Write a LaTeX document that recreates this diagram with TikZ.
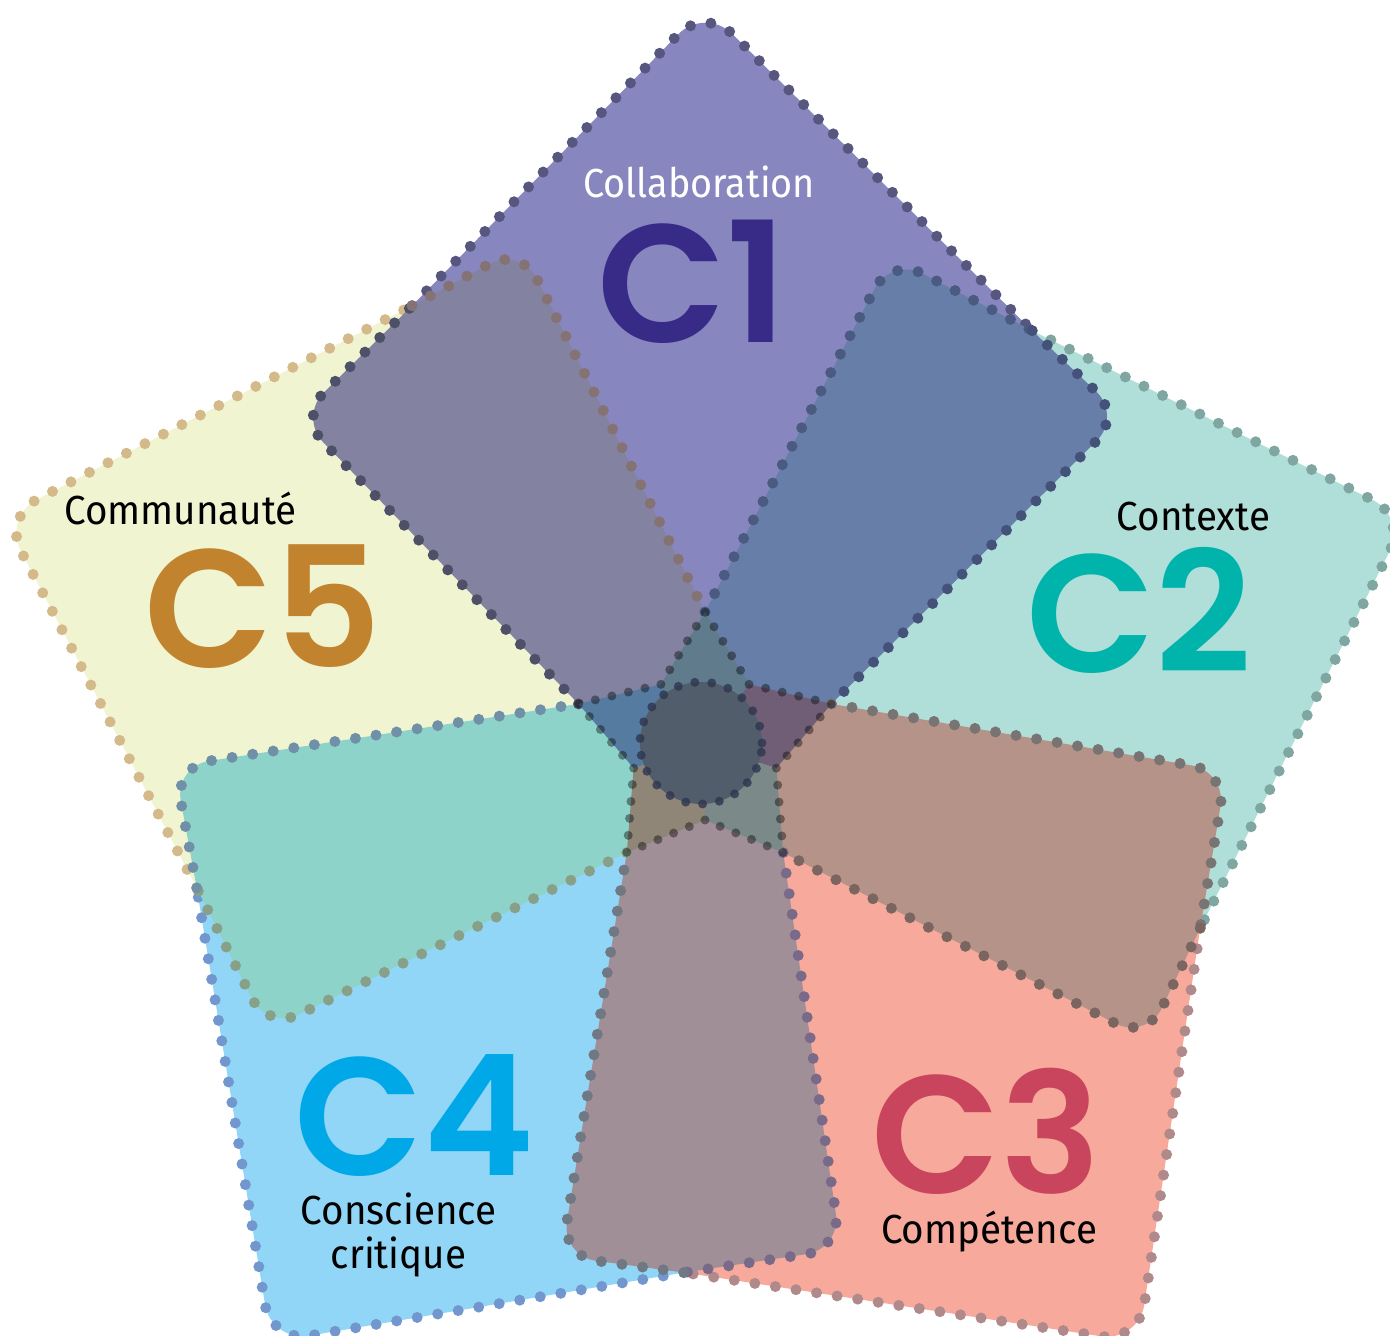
\documentclass[tikz,border=0pt]{standalone}
\usepackage{fontspec}
\setmainfont{Fira Sans}
\newfontfamily\bigfont{Poppins}[UprightFont={* SemiBold}]
\usetikzlibrary{calc}
\definecolor{c1f}{HTML}{8886BF}\definecolor{c2f}{HTML}{B0DED9}\definecolor{c3f}{HTML}{F7A99C}
\definecolor{c4f}{HTML}{91D6F6}\definecolor{c5f}{HTML}{F0F4D0}
\definecolor{c1d}{HTML}{56567E}\definecolor{c2d}{HTML}{80A6A2}\definecolor{c3d}{HTML}{B08A8B}
\definecolor{c4d}{HTML}{7296CE}\definecolor{c5d}{HTML}{D4BA8B}
\definecolor{c1t}{HTML}{372B87}\definecolor{c2t}{HTML}{00B4AC}\definecolor{c3t}{HTML}{C9445D}
\definecolor{c4t}{HTML}{00A8E7}\definecolor{c5t}{HTML}{C1832D}
\definecolor{p1f}{HTML}{8382A0}\definecolor{p1b}{HTML}{857373}\definecolor{p1c}{HTML}{4E5068}
\definecolor{p2f}{HTML}{677EA8}\definecolor{p2b}{HTML}{44527A}\definecolor{p2c}{HTML}{4A5A80}
\definecolor{p3f}{HTML}{B59389}\definecolor{p3b}{HTML}{7A6560}\definecolor{p3c}{HTML}{777473}
\definecolor{p4f}{HTML}{A18F98}\definecolor{p4b}{HTML}{6F7883}\definecolor{p4c}{HTML}{7A6A8A}
\definecolor{p5f}{HTML}{8ED3CA}\definecolor{p5b}{HTML}{7090A8}\definecolor{p5c}{HTML}{87A087}
\definecolor{s0}{HTML}{5F7B8C}\definecolor{s1}{HTML}{705E77}\definecolor{s2}{HTML}{7B8989}
\definecolor{s3}{HTML}{8F8677}\definecolor{s4}{HTML}{557CA0}
\definecolor{cc}{HTML}{515D6A}\definecolor{ccd}{HTML}{2F3550}
\begin{document}
\begin{tikzpicture}[x=1pt,y=1pt,
  dots/.style={line width=11pt, line cap=round, dash pattern=on 0pt off 20.8pt},
  sdots/.style={line width=9pt, line cap=round, dash pattern=on 0pt off 17pt},
  lab/.style={anchor=base, inner sep=0pt, xscale=0.95, font=\fontsize{40.6}{44}\selectfont},
  big/.style={anchor=base, inner sep=0pt, text depth=0pt, font=\bigfont\fontsize{168}{170}\selectfont}]
\useasboundingbox (-705,-591) rectangle (685,745);
\coordinate (O) at (0,0);
\foreach \i in {0,...,4}{
  \pgfmathsetmacro\ang{90-72*\i}
  \coordinate (V\i) at (\ang:738);
  \coordinate (J\i) at (\ang+33.7:528);
  \coordinate (T\i) at (\ang:133);
  \coordinate (I\i) at (\ang+36:75);
  \coordinate (B\i) at (\ang+20.3:531);
  \coordinate (C\i) at (\ang+51.1:522);
}
\foreach \i/\n/\p in {0/1/4,1/2/0,2/3/1,3/4/2,4/0/3}{
  \coordinate (Va\i) at ($(V\i)!38pt!(J\i)$);
  \coordinate (Vac\i) at ($(V\i)!17pt!(J\i)$);
  \coordinate (Vbc\i) at ($(V\i)!17pt!(J\n)$);
  \coordinate (Vb\i) at ($(V\i)!38pt!(J\n)$);
  \coordinate (Ba\i) at ($(B\i)!35pt!(J\i)$);
  \coordinate (Bac\i) at ($(B\i)!15.7pt!(J\i)$);
  \coordinate (Bbc\i) at ($(B\i)!15.7pt!(T\i)$);
  \coordinate (Bb\i) at ($(B\i)!35pt!(T\i)$);
  \coordinate (Ca\i) at ($(C\i)!35pt!(T\p)$);
  \coordinate (Cac\i) at ($(C\i)!15.7pt!(T\p)$);
  \coordinate (Cbc\i) at ($(C\i)!15.7pt!(J\i)$);
  \coordinate (Cb\i) at ($(C\i)!35pt!(J\i)$);
}
% kites
\foreach \i/\n/\fc in {0/1/c1f,1/2/c2f,2/3/c3f,3/4/c4f,4/0/c5f}{
  \fill[\fc] (O) -- (J\i) -- (Va\i) .. controls (Vac\i) and (Vbc\i) .. (Vb\i) -- (J\n) -- cycle;
}
\foreach \i/\n/\dc in {0/1/c1d,1/2/c2d,2/3/c3d,3/4/c4d,4/0/c5d}{
  \draw[dots,\dc] (J\i) -- (Va\i) .. controls (Vac\i) and (Vbc\i) .. (Vb\i) -- (J\n);
}
% petals
\foreach \i/\p/\fc in {0/4/p1f,1/0/p2f,2/1/p3f,3/2/p4f,4/3/p5f}{
  \fill[\fc] (O) -- (T\p) -- (Ca\i) .. controls (Cac\i) and (Cbc\i) .. (Cb\i) -- (J\i)
    -- (Ba\i) .. controls (Bac\i) and (Bbc\i) .. (Bb\i) -- (T\i) -- cycle;
}
\foreach \i/\p/\bc/\cc in {0/4/p1b/p1c,1/0/p2b/p2c,2/1/p3b/p3c,3/2/p4b/p4c,4/3/p5b/p5c}{
  \draw[dots,\cc] (T\p) -- (Ca\i) .. controls (Cac\i) and (Cbc\i) .. (Cb\i) -- (J\i);
  \draw[dots,\bc] (J\i) -- (Ba\i) .. controls (Bac\i) and (Bbc\i) .. (Bb\i) -- (T\i);
}
% star
\foreach \i/\n/\col in {0/1/s0,1/2/s1,2/3/s2,3/4/s3,4/0/s4}{
  \fill[\col] (O) -- (I\i) -- (T\i) -- (I\n) -- cycle;
}
\foreach \i/\n in {0/1,1/2,2/3,3/4,4/0}{
  \draw[sdots,black,opacity=.4] (I\i) -- (T\i) -- (I\n);
}
% centre
\fill[cc] (-4,2) circle (61);
\draw[sdots,ccd,opacity=.8] (-4,2) circle (61);
% texts
\node[lab, white, xscale=0.98] (t1) at (-6,547) {Collaboration};
\node[big, c1t] (b1) at (-12.5,402) {C1};
\node[lab] (t2) at (488.5,214) {Contexte};
\node[big, c2t] (b2) at (434,72) {C2};
\node[big, c3t] (b3) at (281.5,-448) {C3};
\node[lab] (t3) at (284,-498) {Compétence};
\node[big, c4t] (b4) at (-290,-430) {C4};
\node[lab, align=center, font=\fontsize{40.6}{44}\selectfont] (t4) at (-306.5,-523) {Conscience\\critique};
\node[lab] (t5) at (-524.5,220) {Communauté};
\node[big, c5t] (b5) at (-441.5,77) {C5};
\end{tikzpicture}
\end{document}
